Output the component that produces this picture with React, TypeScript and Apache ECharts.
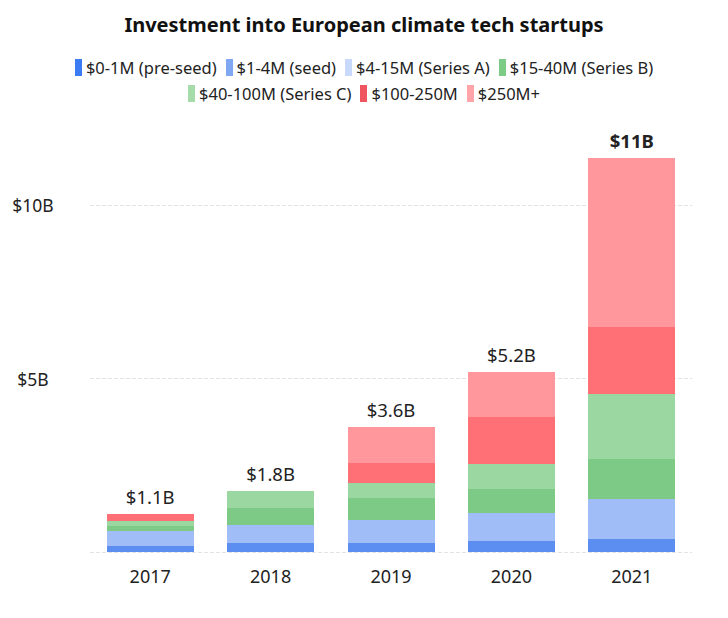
import React, { useEffect, useRef } from "react";
import * as echarts from "echarts";

const years = ["2017", "2018", "2019", "2020", "2021"];
const preSeed = [0.17, 0.26, 0.27, 0.31, 0.37];
const seed = [0.18, 0.22, 0.26, 0.31, 0.42];
const seriesA = [0.25, 0.31, 0.39, 0.5, 0.73];
const seriesB = [0.16, 0.48, 0.63, 0.7, 1.15];
const seriesC = [0.14, 0.49, 0.45, 0.71, 1.9];
const late = [0.19, 0, 0.56, 1.37, 1.93];
const mega = [0, 0, 1.04, 1.28, 4.87];
const totalLabels = ["$1.1B", "$1.8B", "$3.6B", "$5.2B", "$11B"];
const yTickLabels = ["", "$5B", "$10B"];
const seriesNames = [
  "$0-1M (pre-seed)",
  "$1-4M (seed)",
  "$4-15M (Series A)",
  "$15-40M (Series B)",
  "$40-100M (Series C)",
  "$100-250M",
  "$250M+",
];
const seriesValues = [preSeed, seed, seriesA, seriesB, seriesC, late, mega];
const legendColors = ["#3b7cf4", "#80a7f2", "#c9d9fb", "#7ccb87", "#a6dca9", "#ee5560", "#ffa4a9"];
const barColors = ["#5c8df1", "#a1bdf8", "#a1bdf8", "#7dca87", "#9bd7a0", "#ff7076", "#ff979c"];

const FONT = "'Noto Sans', sans-serif";

export default function App() {
  const ref = useRef<HTMLDivElement>(null);
  useEffect(() => {
    if (!ref.current) return;
    const chart = echarts.init(ref.current, undefined, { renderer: "svg" });
    const series: any[] = seriesNames.map((name, i) => ({
      name,
      type: "bar",
      stack: "total",
      barWidth: 87,
      data: seriesValues[i],
      itemStyle: { color: barColors[i] },
    }));
    series.push({
      name: "total",
      type: "bar",
      stack: "total",
      barWidth: 87,
      silent: true,
      data: years.map((_, i) =>
        i === years.length - 1
          ? { value: 0, label: { fontWeight: "bold" } }
          : { value: 0 }
      ),
      itemStyle: { color: "transparent" },
      label: {
        show: true,
        position: "top",
        distance: 8,
        fontSize: 18.5,
        color: "#222",
        fontFamily: FONT,
        formatter: (p: any) => totalLabels[p.dataIndex],
      },
    });
    const legendBase = {
      left: "center",
      itemWidth: 7,
      itemHeight: 17,
      itemGap: 9,
      icon: "rect",
      textStyle: { fontSize: 16.5, color: "#222", fontFamily: FONT, padding: [0, 0, 0, -1] },
    };
    const legendItem = (name: string, i: number) => ({
      name,
      itemStyle: { color: legendColors[i], borderWidth: 0 },
    });
    chart.setOption({
      animation: false,
      title: {
        text: "Investment into European climate tech startups",
        left: "center",
        top: 9,
        textStyle: { fontSize: 20, fontWeight: "bold", color: "#111", fontFamily: FONT },
      },
      legend: [
        { ...legendBase, top: 54, data: seriesNames.slice(0, 4).map((n, i) => legendItem(n, i)) },
        { ...legendBase, top: 80, data: seriesNames.slice(4).map((n, i) => legendItem(n, i + 4)) },
      ],
      grid: { left: 90, right: 36, top: 136, bottom: 66 },
      xAxis: {
        type: "category",
        data: years,
        axisLine: { show: false },
        axisTick: { show: false },
        axisLabel: { fontSize: 18, color: "#222", margin: 15, fontFamily: FONT },
      },
      yAxis: {
        type: "value",
        min: 0,
        max: 12,
        interval: 5,
        axisLine: { show: false },
        axisTick: { show: false },
        splitLine: {
          showMaxLine: false,
          lineStyle: { type: "dashed", color: "#e3e3e3", width: 1 },
        },
        axisLabel: {
          fontSize: 17.5,
          color: "#222",
          margin: 57,
          align: "center",
          showMaxLabel: false,
          fontFamily: FONT,
          formatter: (v: number) => yTickLabels[Math.round(v / 5)] ?? "",
        },
      },
      series,
    });
    return () => chart.dispose();
  }, []);
  return (
    <>
      <style>{`#chart-box svg path{shape-rendering:crispEdges}`}</style>
      <div
        id="chart-box"
        ref={ref}
        style={{ position: "fixed", left: 0, top: 0, width: 728, height: 618, background: "#fff" }}
      />
    </>
  );
}
